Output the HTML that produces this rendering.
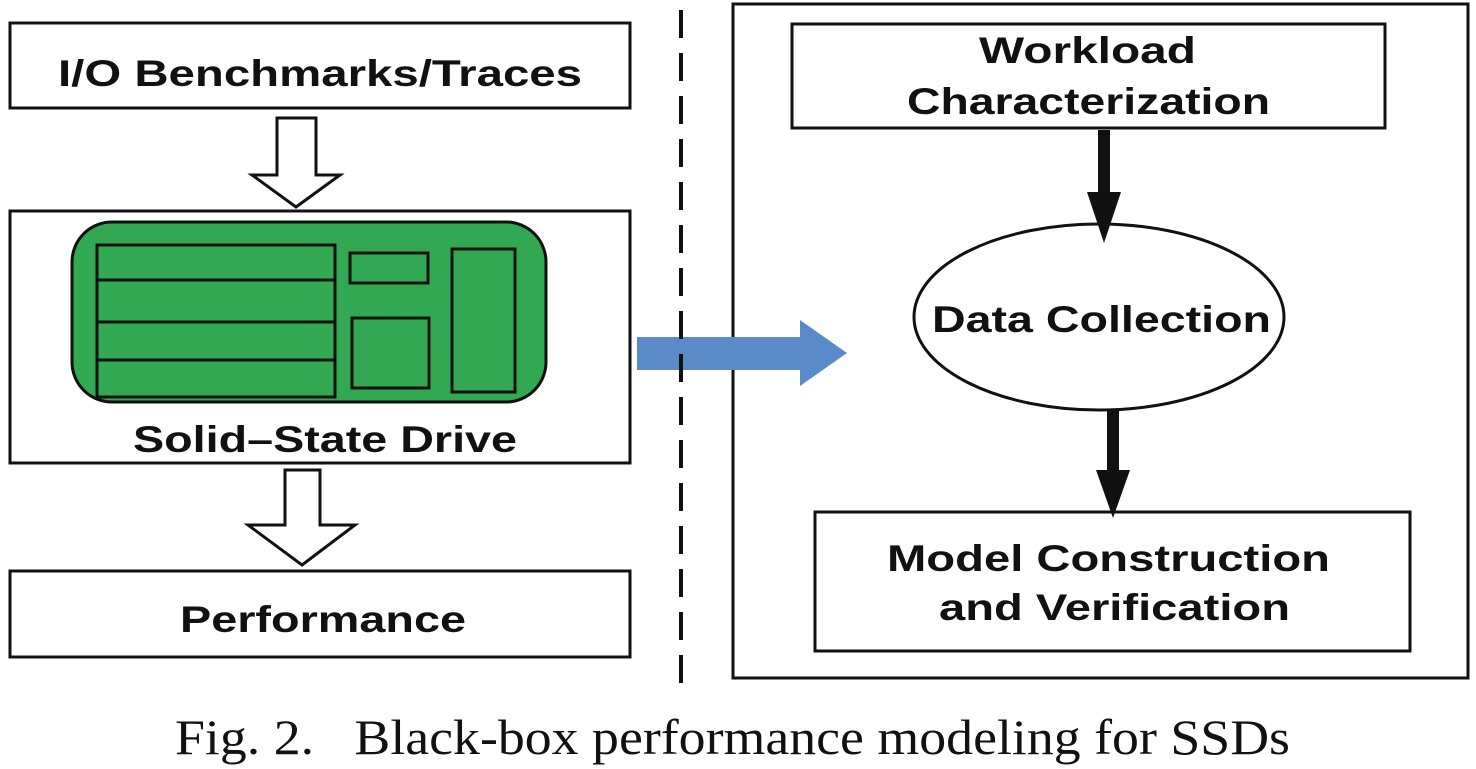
<!DOCTYPE html>
<html><head><style>
html,body{margin:0;padding:0;background:#fff;}
svg{display:block}
text{font-family:"Liberation Sans",sans-serif;font-weight:bold;fill:#111;}
</style></head><body>
<svg width="1476" height="769" viewBox="0 0 1476 769" xmlns="http://www.w3.org/2000/svg">
<g fill="none" stroke="#111" stroke-width="3">
<rect x="10" y="23" width="620" height="85" fill="#fff"/>
<polygon points="277,118 316,118 316,175 340,175 296,207 252,175 277,175" fill="#fff"/>
<rect x="10" y="211" width="620" height="252" fill="#fff"/>
<rect x="72" y="222" width="474" height="180" rx="40" fill="#33a852" stroke-width="3"/>
<rect x="97" y="245" width="238" height="152"/>
<line x1="97" y1="280" x2="335" y2="280"/>
<line x1="97" y1="322" x2="335" y2="322"/>
<line x1="97" y1="360" x2="335" y2="360"/>
<rect x="350" y="253" width="78" height="30"/>
<rect x="352" y="318" width="77" height="70"/>
<rect x="452" y="249" width="63" height="143"/>
<polygon points="285,470 320,470 320,525 355,525 302,565 248,525 285,525" fill="#fff"/>
<rect x="10" y="571" width="620" height="86" fill="#fff"/>
<rect x="733" y="4" width="735" height="674"/>
<rect x="792" y="24" width="593" height="104"/>
<ellipse cx="1099" cy="317" rx="185" ry="93"/>
<rect x="815" y="512" width="595" height="139"/>
</g>
<polygon points="637,337 800,337 800,320 847,353 800,386 800,370 637,370" fill="#5b8ac9"/>
<line x1="681" y1="10" x2="681" y2="690" stroke="#111" stroke-width="4" stroke-dasharray="28,15"/>
<rect x="1098" y="130" width="12" height="62" fill="#111"/>
<polygon points="1087,192 1121,192 1104,243" fill="#111"/>
<rect x="1107" y="410" width="12" height="60" fill="#111"/>
<polygon points="1096,470 1130,470 1113,518" fill="#111"/>
<g font-size="37">
<text x="58" y="86" textLength="524" lengthAdjust="spacingAndGlyphs">I/O Benchmarks/Traces</text>
<text x="133" y="452" textLength="384" lengthAdjust="spacingAndGlyphs">Solid–State Drive</text>
<text x="180" y="632" textLength="286" lengthAdjust="spacingAndGlyphs">Performance</text>
<text x="979" y="63" textLength="217" lengthAdjust="spacingAndGlyphs">Workload</text>
<text x="907" y="114" textLength="363" lengthAdjust="spacingAndGlyphs">Characterization</text>
<text x="932" y="332" textLength="339" lengthAdjust="spacingAndGlyphs">Data Collection</text>
<text x="887" y="571" textLength="443" lengthAdjust="spacingAndGlyphs">Model Construction</text>
<text x="939" y="620" textLength="351" lengthAdjust="spacingAndGlyphs">and Verification</text>
</g>
<text x="175" y="754" textLength="1115" lengthAdjust="spacingAndGlyphs" font-size="50" style="font-family:'Liberation Serif',serif;font-weight:normal" xml:space="preserve">Fig. 2.   Black-box performance modeling for SSDs</text>
</svg>
</body></html>
